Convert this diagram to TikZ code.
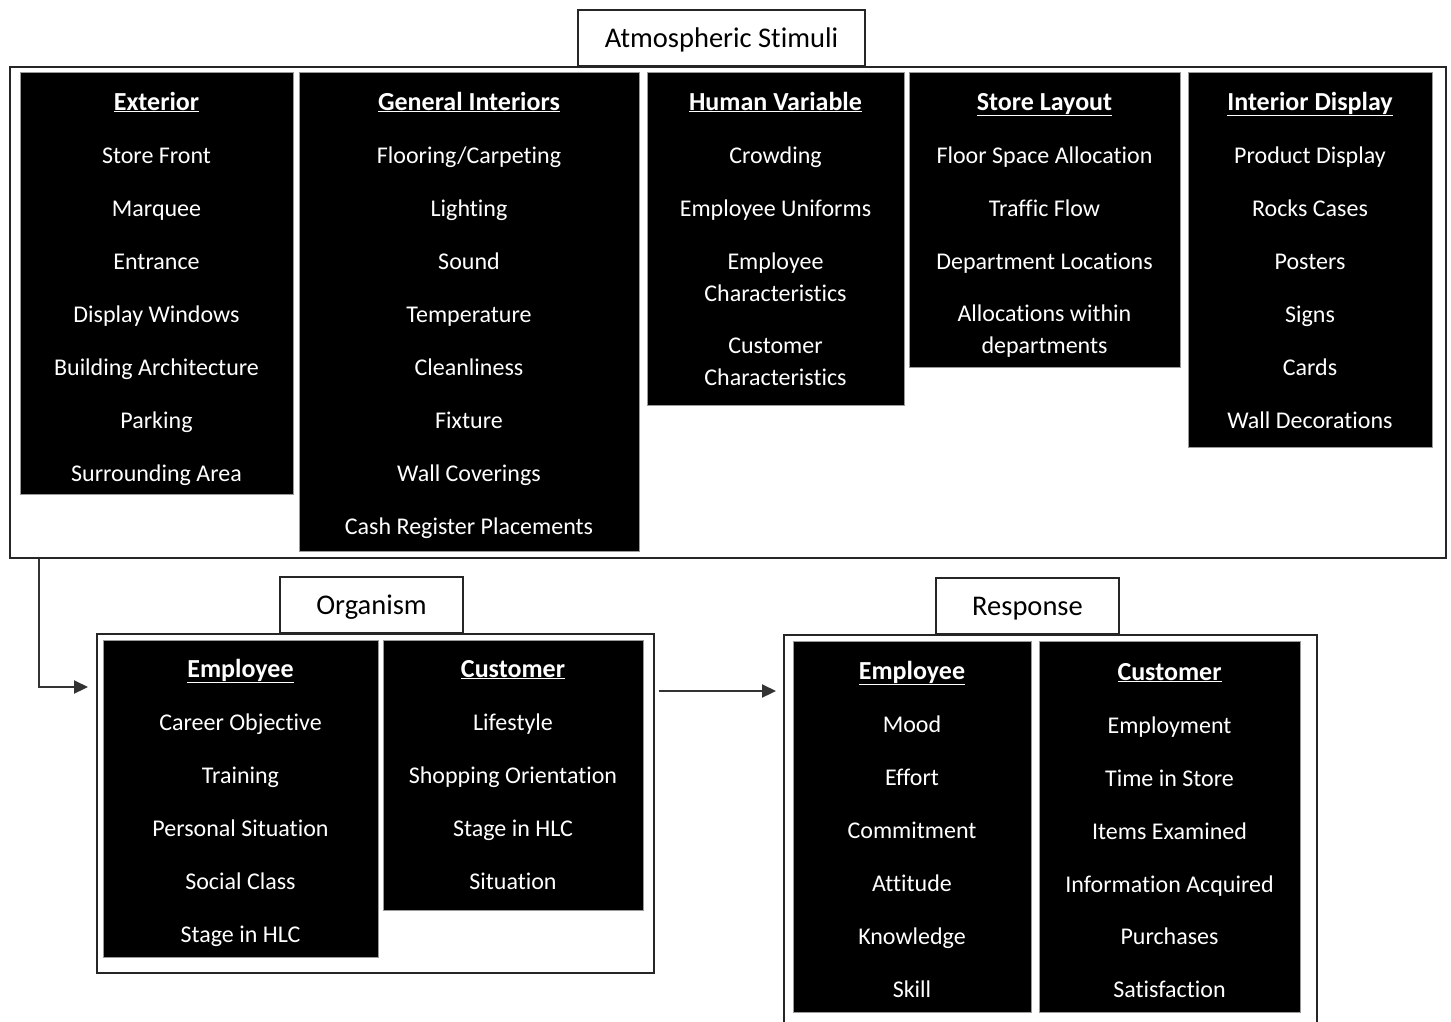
\documentclass[tikz,border=0pt]{standalone}
\usepackage{fontspec}
\setmainfont{Carlito}[Ligatures={NoCommon}]
\usetikzlibrary{arrows.meta}

\tikzset{
  frame/.style={draw=black!85, line width=1.6pt, fill=white, anchor=north west, inner sep=0pt},
  lbl/.style={draw=black!85, line width=1.6pt, fill=white, inner sep=0pt, text height=24pt, text depth=6pt,
    font=\fontsize{28.5}{34}\selectfont},
  col/.style={fill=black, draw=black!40, line width=1pt, anchor=north west, inner sep=0pt},
  head/.style={text=white, font=\fontsize{26}{31}\selectfont\bfseries, text height=18pt, text depth=6pt, yshift=-3pt},
  item/.style={text=white, font=\fontsize{24}{31.5}\selectfont, text height=16pt, text depth=5pt, yshift=-3pt},
  item2/.style={text=white, font=\fontsize{24}{31.5}\selectfont, align=center},
  arr/.style={draw=black!80, line width=2.2pt, -{Triangle[length=14pt,width=13pt]}},
}

\begin{document}
\begin{tikzpicture}[x=1pt,y=-1pt]
    \clip (0,0) rectangle (1451,1021);

    % atmospheric stimuli
    \node[frame, minimum width=1436pt, minimum height=491pt] (stim) at (9,66) {};
    \node[lbl, minimum width=287pt, minimum height=56pt] (stimlbl) at (721.5,38) {Atmospheric Stimuli};

    \node[col, minimum width=273pt, minimum height=422pt] (ext) at (20,72) {};
    \node[col, minimum width=340pt, minimum height=479pt] (gen) at (299,72) {};
    \node[col, minimum width=257pt, minimum height=333pt] (hum) at (647,72) {};
    \node[col, minimum width=271pt, minimum height=295pt] (lay) at (909,72) {};
    \node[col, minimum width=244pt, minimum height=375pt] (disp) at (1188,72) {};

    \node[head] (exth) at (156.5,101) {\underline{Exterior}};
    \foreach \y/\t [count=\i] in {155/Store Front, 208/Marquee, 261/Entrance, 314/Display Windows,
        367/Building Architecture, 420/Parking, 473/Surrounding Area}
        \node[item] (ext\i) at (156.5,\y) {\t};

    \node[head] (genh) at (469,101) {\underline{General Interiors}};
    \foreach \y/\t [count=\i] in {155/Flooring{/}Carpeting, 208/Lighting, 261/Sound, 314/Temperature,
        367/Cleanliness, 420/Fixture, 473/Wall Coverings, 526/Cash Register Placements}
        \node[item] (gen\i) at (469,\y) {\t};

    \node[head] (humh) at (775.5,101) {\underline{Human Variable}};
    \node[item] (hum1) at (775.5,155) {Crowding};
    \node[item] (hum2) at (775.5,208) {Employee Uniforms};
    \node[item2] (hum3) at (775.5,277) {Employee\\Characteristics};
    \node[item2] (hum4) at (775.5,362) {Customer\\Characteristics};

    \node[head] (layh) at (1044.5,101) {\underline{Store Layout}};
    \node[item] (lay1) at (1044.5,155) {Floor Space Allocation};
    \node[item] (lay2) at (1044.5,208) {Traffic Flow};
    \node[item] (lay3) at (1044.5,261) {Department Locations};
    \node[item2] (lay4) at (1044.5,331) {Allocations within\\departments};

    \node[head] (disph) at (1310,101) {\underline{Interior Display}};
    \foreach \y/\t [count=\i] in {155/Product Display, 208/Rocks Cases, 261/Posters, 314/Signs,
        367/Cards, 420/Wall Decorations}
        \node[item] (disp\i) at (1310,\y) {\t};

    % organism
    \node[frame, minimum width=557pt, minimum height=339pt] (org) at (96,633) {};
    \node[lbl, minimum width=183pt, minimum height=56pt] (orglbl) at (371.5,605) {Organism};

    \node[col, minimum width=275pt, minimum height=317pt] (oemp) at (103,640) {};
    \node[col, minimum width=260pt, minimum height=270pt] (ocus) at (383,640) {};

    \node[head] (oemph) at (240.5,668) {\underline{Employee}};
    \foreach \y/\t [count=\i] in {722/Career Objective, 775/Training, 828/Personal Situation,
        881/Social Class, 934/Stage in HLC}
        \node[item] (oemp\i) at (240.5,\y) {\t};

    \node[head] (ocush) at (513,668) {\underline{Customer}};
    \foreach \y/\t [count=\i] in {722/Lifestyle, 775/Shopping Orientation, 828/Stage in HLC, 881/Situation}
        \node[item] (ocus\i) at (513,\y) {\t};

    % response
    \node[frame, minimum width=533pt, minimum height=420pt] (resp) at (783,634) {};
    \node[lbl, minimum width=183pt, minimum height=56pt] (resplbl) at (1027.5,606) {Response};

    \node[col, minimum width=238pt, minimum height=371pt] (remp) at (793,641) {};
    \node[col, minimum width=261pt, minimum height=371pt] (rcus) at (1039,641) {};

    \node[head] (remph) at (912,670) {\underline{Employee}};
    \foreach \y/\t [count=\i] in {724/Mood, 777/Effort, 830/Commitment, 883/Attitude, 936/Knowledge, 989/Skill}
        \node[item] (remp\i) at (912,\y) {\t};

    \node[head] (rcush) at (1169.5,671) {\underline{Customer}};
    \foreach \y/\t [count=\i] in {725/Employment, 778/Time in Store, 831/Items Examined,
        884/Information Acquired, 936/Purchases, 989/Satisfaction}
        \node[item] (rcus\i) at (1169.5,\y) {\t};

    % connectors
    \coordinate (orgin) at (88,687);
    \coordinate (respin) at (776,691);
    \draw[arr] ([xshift=30pt]stim.south west) |- (orgin);
    \draw[arr] ([xshift=4pt]org.east |- respin) -- (respin);

\end{tikzpicture}
\end{document}
